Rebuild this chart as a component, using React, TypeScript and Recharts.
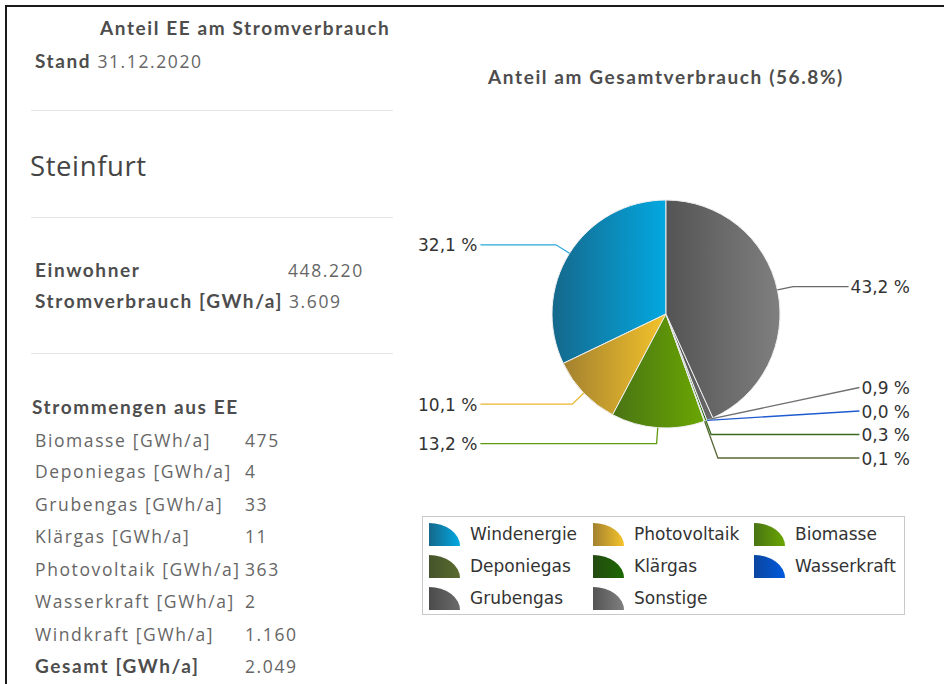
import React from "react";
import { PieChart, Pie, Cell, Legend } from "recharts";

const categories = [
  "Windenergie",
  "Photovoltaik",
  "Biomasse",
  "Deponiegas",
  "Klärgas",
  "Wasserkraft",
  "Grubengas",
  "Sonstige",
];
// Anteil am Gesamtverbrauch in %
const shares = [32.1, 10.1, 13.2, 0.1, 0.3, 0.0, 0.9, 43.2];

const eeLabels = [
  "Biomasse [GWh/a]",
  "Deponiegas [GWh/a]",
  "Grubengas [GWh/a]",
  "Klärgas [GWh/a]",
  "Photovoltaik [GWh/a]",
  "Wasserkraft [GWh/a]",
  "Windkraft [GWh/a]",
];
const eeValues = ["475", "4", "33", "11", "363", "2", "1.160"];
const totalLabel = "Gesamt [GWh/a]";
const totalValue = "2.049";

const region = "Steinfurt";
const asOf = "31.12.2020";
const inhabitants = "448.220";
const consumption = "3.609";
const pieTitle = "Anteil am Gesamtverbrauch (56.8%)";

const gradients = [
  ["#15688b", "#03a8e1"],
  ["#a3812f", "#f4c32b"],
  ["#497414", "#6aa602"],
  ["#45542a", "#5b6b2f"],
  ["#254b12", "#1b6800"],
  ["#0c469e", "#0059de"],
  ["#4b4b4b", "#6b6b6b"],
  ["#545454", "#7f7f7f"],
];
const lineColors = ["#2ba8dc", "#e8b72d", "#5f9a12", "#5a6836", "#3a6a1f", "#1e5ad0", "#707070", "#6a6a6a"];

const CX = 262;
const CY = 314;
const R = 114;
const EXT = 16;
const GAP = 23.5;
const LEFT_EDGE = -248; // labels left of the pie start here
const RIGHT_EDGE = 244; // labels right of the pie end here
const LABEL_SIZE = 17;
const RAD = Math.PI / 180;

// rough DejaVu Sans advance widths (em) for the label characters
const charW: Record<string, number> = { ",": 0.318, " ": 0.318, "%": 0.95 };
const textWidth = (s: string) => s.split("").reduce((w, c) => w + (charW[c] ?? 0.636), 0) * LABEL_SIZE;

// spread colliding labels per side (keeps them inside a band around the pie)
function layoutLabels(): number[] {
  const total = shares.reduce((s, v) => s + v, 0);
  let acc = 90;
  const items = shares.map((v, i) => {
    const span = (v / total) * 360;
    const mid = acc + span / 2;
    acc += span;
    const a = -mid * RAD;
    return { i, right: Math.cos(a) >= 0, nat: CY + (R + EXT) * Math.sin(a) };
  });
  const minY = CY - R - 30;
  const maxY = CY + R + 30;
  const out: number[] = [];
  [true, false].forEach((side) => {
    const list = items.filter((it) => it.right === side).sort((a, b) => a.nat - b.nat);
    const clusters = list.map((it) => ({ members: [it], top: it.nat }));
    let merged = true;
    while (merged) {
      merged = false;
      clusters.forEach((c) => {
        const mean = c.members.reduce((s, m) => s + m.nat, 0) / c.members.length;
        let top = mean - ((c.members.length - 1) * GAP) / 2;
        const bottom = top + (c.members.length - 1) * GAP;
        if (bottom > maxY) top -= bottom - maxY;
        if (top < minY) top = minY;
        c.top = top;
      });
      for (let k = 0; k < clusters.length - 1; k++) {
        const a = clusters[k];
        const b = clusters[k + 1];
        if (a.top + a.members.length * GAP > b.top) {
          a.members.push(...b.members);
          clusters.splice(k + 1, 1);
          merged = true;
          break;
        }
      }
    }
    clusters.forEach((c) => c.members.forEach((m, j) => (out[m.i] = c.top + j * GAP)));
  });
  return out;
}

const labelYs = layoutLabels();

function renderLabel(props: any) {
  const { cx, cy, midAngle, outerRadius, index } = props;
  const a = -midAngle * RAD;
  const cos = Math.cos(a);
  const sin = Math.sin(a);
  const sx = cx + outerRadius * cos;
  const sy = cy + outerRadius * sin;
  const ty = labelYs[index];
  const right = cos >= 0;
  const text = shares[index].toFixed(1).replace(".", ",") + " %";
  const w = textWidth(text);
  const tx = right ? cx + RIGHT_EDGE : cx + LEFT_EDGE;
  const ex = right ? tx - w - 2 : tx + w + 3;
  const t = Math.abs(sin) > 1e-6 ? (ty - sy) / sin : -1;
  const pts = t >= 0 && t < 60 ? [[sx, sy], [sx + t * cos, ty], [ex, ty]] : [[sx, sy], [ex, ty]];
  return (
    <g key={`lbl-${index}`}>
      <polyline
        points={pts.map((p) => p.join(",")).join(" ")}
        fill="none"
        stroke={lineColors[index]}
        strokeWidth={1.3}
      />
      <text
        x={tx}
        y={ty}
        dy={0.5}
        textAnchor={right ? "end" : "start"}
        dominantBaseline="central"
        fontFamily="DejaVu Sans"
        fontSize={LABEL_SIZE}
        fill="#333"
      >
        {text}
      </text>
    </g>
  );
}

function LegendBox() {
  return (
    <div
      style={{
        boxSizing: "border-box",
        width: 483,
        height: 99,
        border: "1px solid #c9c9c9",
        background: "#fff",
        paddingTop: 1,
        display: "grid",
        gridTemplateColumns: "164px 161px 150px",
        gridAutoRows: "32px",
      }}
    >
      {categories.map((name, i) => (
        <div key={name} style={{ display: "flex", alignItems: "center", paddingLeft: 6 }}>
          <svg width={31} height={23} style={{ flex: "none" }}>
            <defs>
              <linearGradient id={`lg-${i}`} x1="0" y1="0" x2="1" y2="0">
                <stop offset="0%" stopColor={gradients[i][0]} />
                <stop offset="100%" stopColor={gradients[i][1]} />
              </linearGradient>
            </defs>
            <path d="M0,23 L0,0 A31,23 0 0 1 31,23 Z" fill={`url(#lg-${i})`} />
          </svg>
          <span
            style={{
              marginLeft: 10,
              fontFamily: "DejaVu Sans",
              fontSize: 17,
              color: "#333",
              whiteSpace: "nowrap",
            }}
          >
            {name}
          </span>
        </div>
      ))}
    </div>
  );
}

const bold: React.CSSProperties = {
  fontFamily: "Lato",
  fontWeight: 700,
  fontSize: 19,
  letterSpacing: 1.6,
  color: "#4d4d4d",
};
const plain: React.CSSProperties = {
  fontFamily: "'Open Sans'",
  fontSize: 17.5,
  letterSpacing: 1.6,
  color: "#666",
};

function At({ x, y, h = 24, style, children }: any) {
  return (
    <div
      style={{
        position: "absolute",
        left: x,
        top: y - h / 2,
        height: h,
        lineHeight: `${h}px`,
        whiteSpace: "nowrap",
        ...style,
      }}
    >
      {children}
    </div>
  );
}

function Rule({ y }: { y: number }) {
  return <div style={{ position: "absolute", left: 31, top: y, width: 362, height: 1, background: "#e6e6e6" }} />;
}

export default function App() {
  const data = categories.map((name, i) => ({ name, value: shares[i] }));
  const rowYs = [440, 471, 504, 536, 569, 601, 634];
  return (
    <div
      style={{
        position: "absolute",
        left: 0,
        top: 0,
        width: 944,
        height: 684,
        overflow: "hidden",
        background: "#fff",
      }}
    >
      <div
        style={{
          position: "absolute",
          left: 5,
          top: 5,
          width: 960,
          height: 700,
          borderTop: "2px solid #1a1a1a",
          borderLeft: "2px solid #1a1a1a",
        }}
      />

      <At x={100} y={28} style={bold}>Anteil EE am Stromverbrauch</At>
      <At x={35} y={61} style={plain}>
        <span style={bold}>Stand</span> {asOf}
      </At>
      <Rule y={110} />
      <At x={30} y={166} h={36} style={{ ...plain, fontSize: 27.5, letterSpacing: 0.6, color: "#444" }}>
        {region}
      </At>
      <Rule y={217} />
      <At x={35} y={270} style={bold}>Einwohner</At>
      <At x={288} y={270} style={plain}>{inhabitants}</At>
      <At x={35} y={301} style={bold}>Stromverbrauch [GWh/a]</At>
      <At x={289} y={301} style={plain}>{consumption}</At>
      <Rule y={353} />
      <At x={32} y={407} style={bold}>Strommengen aus EE</At>
      {eeLabels.map((l, i) => (
        <React.Fragment key={l}>
          <At x={35} y={rowYs[i]} style={plain}>{l}</At>
          <At x={245} y={rowYs[i]} style={plain}>{eeValues[i]}</At>
        </React.Fragment>
      ))}
      <At x={35} y={666} style={bold}>{totalLabel}</At>
      <At x={245} y={666} style={plain}>{totalValue}</At>

      <div style={{ position: "absolute", left: 404, top: 0, width: 540, height: 684 }}>
        <At x={0} y={77} style={{ ...bold, width: 524, textAlign: "center", left: 0 }}>
          {pieTitle}
        </At>
        <PieChart width={540} height={684} margin={{ top: 0, right: 0, bottom: 0, left: 0 }}>
          <defs>
            {gradients.map((g, i) => (
              <linearGradient key={i} id={`pg-${i}`} x1="0" y1="0" x2="1" y2="0">
                <stop offset="0%" stopColor={g[0]} />
                <stop offset="100%" stopColor={g[1]} />
              </linearGradient>
            ))}
          </defs>
          <Pie
            data={data}
            dataKey="value"
            nameKey="name"
            cx={CX}
            cy={CY}
            outerRadius={R}
            startAngle={90}
            endAngle={450}
            stroke="#efefef"
            strokeWidth={1}
            label={renderLabel}
            labelLine={false}
            isAnimationActive={false}
          >
            {data.map((d, i) => (
              <Cell key={d.name} fill={`url(#pg-${i})`} />
            ))}
          </Pie>
          <Legend
            content={<LegendBox />}
            wrapperStyle={{ left: 18, top: 516, bottom: "auto", width: 483 }}
          />
        </PieChart>
      </div>
    </div>
  );
}
